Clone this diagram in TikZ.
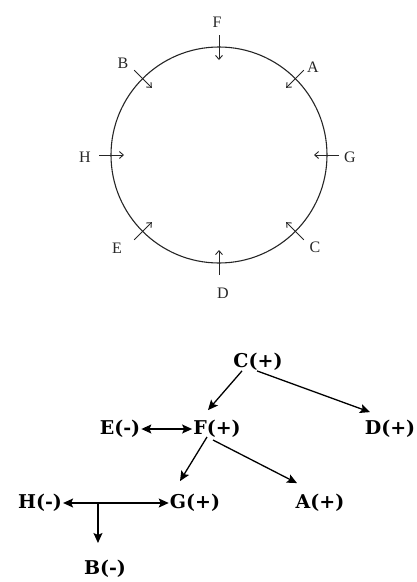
\documentclass[tikz,border=0pt]{standalone}
\usepackage{fontspec}
\setmainfont{Liberation Serif}
\newfontfamily\boldser{DejaVu Serif}
\usetikzlibrary{arrows.meta,calc}
\begin{document}
\begin{tikzpicture}[x=1pt,y=-1pt,
  ring/.style={line width=1.1pt,draw=black!85},
  pin/.style={line width=0.9pt,draw=black!85,-{Straight Barb[length=4pt,width=7pt]}},
  clab/.style={font=\fontsize{16}{16}\selectfont,inner sep=0pt,text=black!85},
  gnode/.style={font=\boldser\bfseries\fontsize{19}{19}\selectfont,inner sep=1pt},
  garr/.style={line width=1.3pt,-{Stealth[length=10pt,width=9pt,inset=2pt]}},
  gbi/.style={line width=1.3pt,{Stealth[length=10pt,width=9pt,inset=2pt]}-{Stealth[length=10pt,width=9pt,inset=2pt]}}]
\useasboundingbox (0,0) rectangle (416,582);
% circle diagram
\coordinate (O) at (219,155);
\draw[ring] (O) circle[radius=108];
\foreach \n/\a in {F/90,A/45,G/0,C/-45,D/-90,E/-135,H/180,B/135}{
  \coordinate (\n out) at ($(O)+({cos(\a)*120},{-sin(\a)*120})$);
  \coordinate (\n in) at ($(O)+({cos(\a)*95},{-sin(\a)*95})$);
  \draw[pin] (\n out) -- (\n in);
}
\node[clab] (lF) at (217,22) {F};
\node[clab] (lA) at (313,67) {A};
\node[clab] (lG) at (350,157) {G};
\node[clab] (lC) at (315,247) {C};
\node[clab] (lD) at (223,293) {D};
\node[clab] (lE) at (117,248) {E};
\node[clab] (lH) at (85,157) {H};
\node[clab] (lB) at (123,63) {B};
% graph
\node[gnode] (C) at (258,362) {C(+)};
\node[gnode] (E) at (120,429) {E(-)};
\node[gnode] (F) at (217,429) {F(+)};
\node[gnode] (D) at (390,429) {D(+)};
\node[gnode] (H) at (40,503) {H(-)};
\node[gnode] (G) at (195,503) {G(+)};
\node[gnode] (A) at (320,503) {A(+)};
\node[gnode] (B) at (105,569) {B(-)};
\draw[garr] ($(C.south)+(-16,-1)$) -- ($(F.north)+(-9,-9)$);
\draw[garr] ($(C.south)+(-1,-1)$) -- ($(D.north)+(-20,-7)$);
\draw[gbi] (E.east) -- (F.west);
\draw[garr] ($(F.center)+(-10,8)$) -- ($(G.north)+(-15,-12)$);
\draw[garr] ($(F.center)+(-4,11)$) -- ($(A.north)+(-23,-10)$);
\draw[gbi] (H.east) -- (G.west);
\coordinate (HG) at ($(H.east)!0.33!(G.west)$);
\coordinate (Bend) at ($(HG)+(0,40)$);
\draw[garr] (HG) -- (Bend);
\end{tikzpicture}
\end{document}
